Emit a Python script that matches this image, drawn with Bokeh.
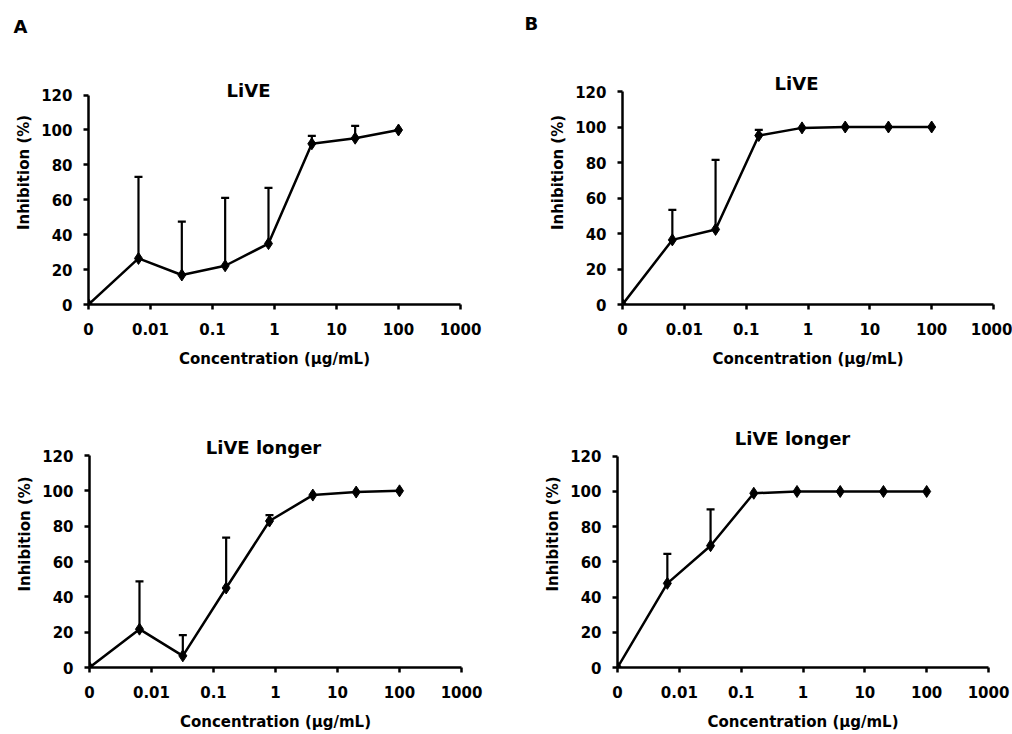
from bokeh.plotting import figure
from bokeh.layouts import column, row
from bokeh.models import FixedTicker, Label, Whisker, ColumnDataSource, TeeHead
from bokeh.embed import file_html
from bokeh.resources import INLINE

# ---------------- data ----------------
conc = [0, 0.0064, 0.032, 0.16, 0.8, 4, 20, 100]          # µg/mL (0 drawn at axis origin)
x_tick_values = [0.001, 0.01, 0.1, 1, 10, 100, 1000]
x_tick_labels = ["0", "0.01", "0.1", "1", "10", "100", "1000"]
y_tick_values = [0, 20, 40, 60, 80, 100, 120]

live_A_mean = [0, 26.4, 16.9, 22.2, 34.9, 92.1, 95.3, 100]
live_A_err = [0, 46.7, 30.6, 38.9, 31.9, 4.5, 7.0, 0]
live_B_mean = [0, 36.4, 42.3, 95.2, 99.5, 100, 100, 100]
live_B_err = [0, 16.9, 39.2, 3.2, 0, 0, 0, 0]
longer_A_mean = [0, 21.7, 6.6, 45.0, 82.9, 97.6, 99.3, 100]
longer_A_err = [0, 27.1, 11.7, 28.5, 3.4, 0, 0, 0]
longer_B_mean = [0, 47.8, 69.2, 99.0, 100, 100, 100, 100]
longer_B_err = [0, 16.8, 20.6, 0, 0, 0, 0, 0]

titles = ["LiVE", "LiVE", "LiVE longer", "LiVE longer"]
letters = ["A", "B"]

X_MIN, X_MAX = 0.001, 1000
Y_MIN, Y_MAX = 0, 120
FONT = "DejaVu Sans"


def make_panel(W, H, fl, fr, y120, fb, top, mean, err, title, title_px,
               letter=None, letter_offset=0, letter_standoff=0):
    # frame extends above the 120 line (axis bounded to 0..120) so titles fit inside it
    y_top = Y_MAX * (fb - top) / (fb - y120)
    p = figure(width=W, height=H, x_axis_type="log",
               x_range=(X_MIN, X_MAX), y_range=(Y_MIN, y_top),
               output_backend="svg", toolbar_location=None,
               title=letter if letter else None,
               title_location="above" if letter else None,
               min_border_left=fl, min_border_right=W - fr,
               min_border_top=top, min_border_bottom=H - fb)
    p.outline_line_color = None
    p.xgrid.visible = False
    p.ygrid.visible = False
    p.background_fill_color = "white"
    p.border_fill_color = "white"

    if letter:
        p.title.align = "left"
        p.title.offset = letter_offset
        p.title.standoff = letter_standoff
        p.title.vertical_align = "bottom"
        p.title.text_font = FONT
        p.title.text_font_style = "bold"
        p.title.text_font_size = "18px"
        p.title.text_color = "black"

    def to_data(px, py):
        xd = 10 ** (-3 + 6 * (px - fl) / (fr - fl))
        yd = Y_MAX * (fb - py) / (fb - y120)
        return xd, yd

    xs = [c if c > 0 else X_MIN for c in conc]

    # error bars (upper only)
    ex = [x for x, e in zip(xs, err) if e > 0]
    el = [m for m, e in zip(mean, err) if e > 0]
    eu = [m + e for m, e in zip(mean, err) if e > 0]
    src = ColumnDataSource(dict(x=ex, lower=el, upper=eu))
    w = Whisker(source=src, base="x", lower="lower", upper="upper", dimension="height",
                line_color="black", line_width=2.2, lower_head=None,
                upper_head=TeeHead(size=8, line_width=2.2, line_color="black"))
    p.add_layout(w)

    p.line(xs, mean, line_color="black", line_width=2.5)
    p.scatter(xs, mean, marker="diamond", size=12, color="black")

    for ax in (p.xaxis[0], p.yaxis[0]):
        ax.axis_line_width = 2.5
        ax.axis_line_color = "black"
        ax.major_tick_line_width = 2.5
        ax.major_tick_in = 0
        ax.major_tick_out = 5
        ax.minor_tick_line_color = None
        ax.major_label_text_font = FONT
        ax.major_label_text_font_style = "bold"
        ax.major_label_text_font_size = "15px"
        ax.major_label_text_color = "black"
        ax.axis_label_text_font = FONT
        ax.axis_label_text_font_style = "bold"
        ax.axis_label_text_font_size = "15px"
        ax.axis_label_text_color = "black"

    p.xaxis.ticker = FixedTicker(ticks=x_tick_values)
    p.xaxis.major_label_overrides = {v: l for v, l in zip(x_tick_values, x_tick_labels)}
    p.xaxis.axis_label = "Concentration (µg/mL)"
    p.xaxis.major_label_standoff = 13
    p.xaxis.axis_label_standoff = 12
    p.yaxis.ticker = FixedTicker(ticks=y_tick_values)
    p.yaxis.bounds = (Y_MIN, Y_MAX)
    p.yaxis.axis_label = "Inhibition (%)"
    p.yaxis.major_label_standoff = 11
    p.yaxis.axis_label_standoff = 5

    tx, ty = to_data(*title_px)
    p.add_layout(Label(x=tx, y=ty, text=title, text_align="center", text_baseline="middle",
                       text_font=FONT, text_font_style="bold", text_font_size="18px",
                       text_color="black"))
    return p


p1 = make_panel(500, 370, 88, 460, 95, 306, 40, live_A_mean, live_A_err, titles[0], (248, 90),
                letters[0], letter_offset=-75, letter_standoff=8)
p2 = make_panel(512, 370, 122, 493, 91, 304, 40, live_B_mean, live_B_err, titles[1], (296, 83),
                letters[1], letter_offset=-98, letter_standoff=14)
p3 = make_panel(500, 364, 89, 461, 85, 297, 30, longer_A_mean, longer_A_err, titles[2], (263, 77))
p4 = make_panel(512, 364, 117, 488, 86, 298, 30, longer_B_mean, longer_B_err, titles[3], (292, 68))

layout = column(row(p1, p2), row(p3, p4))
open("out.html", "w").write(file_html(layout, INLINE))
